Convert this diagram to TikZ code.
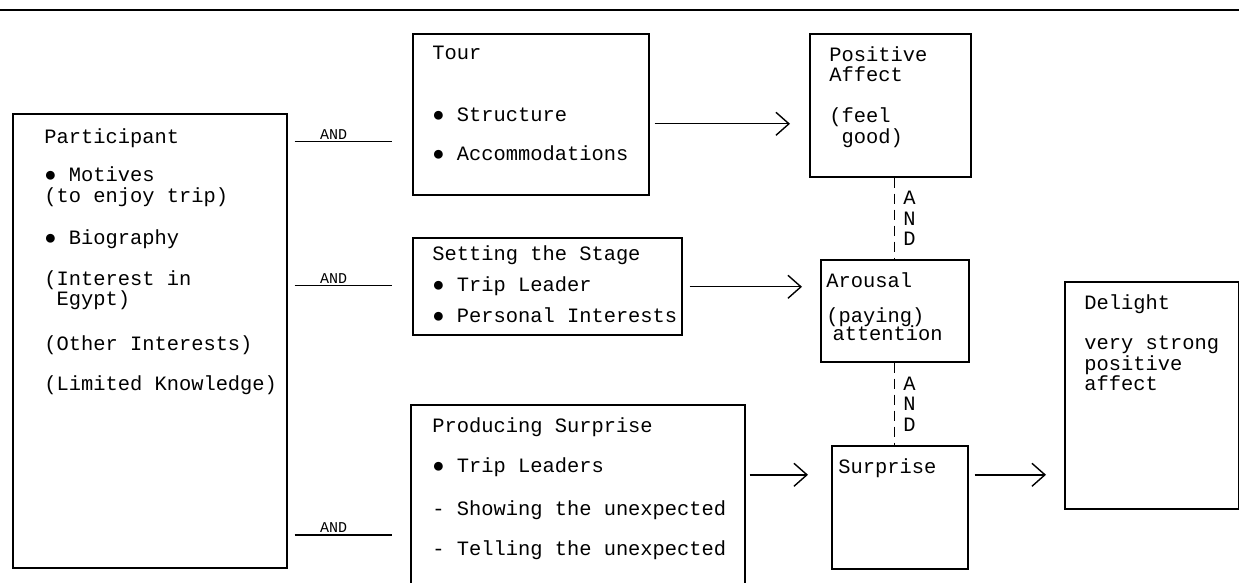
\documentclass[tikz,border=0pt]{standalone}
\usepackage{fontspec}
\newfontfamily\cour{Liberation Mono}
\usepackage{tikz}
\usetikzlibrary{arrows.meta, positioning}
\tikzset{
  box/.style 2 args={
    draw, line width=0.8pt, anchor=north west,
    minimum width=#1, minimum height=#2, inner sep=0pt
  },
  txt/.style={anchor=north west, align=left, inner sep=0pt,
    execute at begin node={\rule{0pt}{9pt}}},
  arrow/.style={-{Straight Barb[length=6.5pt,width=11.5pt]}, line width=0.7pt},
  andline/.style={line width=0.7pt},
  andlink/.style={dash pattern=on 5pt off 3pt, line width=0.6pt},
  andlbl/.style={font=\cour\fontsize{7.5}{8}\selectfont, above, inner sep=1pt}
}

\begin{document}
\begin{tikzpicture}[x=0.5pt, y=-0.5pt, font=\cour\fontsize{10.2}{10.25}\selectfont]
  \useasboundingbox (0,0) rectangle (1239,583);
  \clip (0,0) rectangle (1239,583);
  \draw[line width=1pt] (0,10) -- (1239,10);

  % boxes
  \node[box={137pt}{227pt}]   (part)    at (12,113)  {};
  \node[box={118pt}{80.5pt}]  (tour)    at (412,33)  {};
  \node[box={134.5pt}{48.5pt}] (stage)  at (412,237) {};
  \node[box={167pt}{98pt}]    (prod)    at (410,404) {};
  \node[box={80.5pt}{71.5pt}] (pos)     at (809,33)  {};
  \node[box={74pt}{51pt}]     (arou)    at (820,259) {};
  \node[box={68pt}{61.5pt}]   (surp)    at (831,445) {};
  \node[box={87pt}{113.5pt}]  (delight) at (1064,281) {};

  % texts
  \node[txt] (partT) at ([shift={(32,15)}]part.north west) {Participant\\[9pt] ● Motives\\ (to enjoy trip)\\[11pt]
    ● Biography\\[10pt] (Interest in\\ \ Egypt)\\[12pt] (Other Interests)\\[10pt] (Limited Knowledge)};
  \node[txt] (tourT) at ([shift={(20,13)}]tour.north west) {Tour\\[20.5pt] ● Structure\\[9.5pt] ● Accommodations};
  \node[txt] (stageT) at ([shift={(20,8)}]stage.north west) {Setting the Stage\\[5.5pt] ● Trip Leader\\[5.25pt]
    ● Personal Interests};
  \node[txt] (prodT) at ([shift={(22,13)}]prod.north west) {Producing Surprise\\[9.75pt] ● Trip Leaders\\[11.25pt]
    - Showing the unexpected\\[9.75pt] - Telling the unexpected};
  \node[txt] (posT) at ([shift={(20,13)}]pos.north west) {Positive\\ Affect\\[10.25pt] (feel\\ \ good)};
  \node[txt] (arouT) at ([shift={(6,13)}]arou.north west) {Arousal\\[7.25pt] (paying)\\[-1.25pt] \hspace{0.3em}attention};
  \node[txt] (surpT) at ([shift={(7,10)}]surp.north west) {Surprise};
  \node[txt] (delightT) at ([shift={(20,13)}]delight.north west) {Delight\\[10pt] very strong\\ positive\\ affect};

  % arrows
  \draw[arrow] ([shift={(5,9.5)}]tour.east) -- ([shift={(-19,18.5)}]pos.west);
  \draw[arrow] ([shift={(7,0.5)}]stage.east) -- ([shift={(-18,-24)}]arou.west);
  \draw[arrow] ([shift={(4,-28)}]prod.east) -- ([shift={(-23,-32.5)}]surp.west);
  \draw[arrow] ([shift={(6,-32.5)}]surp.east) -- ([shift={(-18,79.5)}]delight.west);

  % AND lines
  \draw[andline] ([shift={(7,-199)}]part.east) -- ([shift={(-20,27.5)}]tour.west)
    node[pos=0.4, andlbl] {AND};
  \draw[andline] ([shift={(7,-55)}]part.east) -- ([shift={(-20,-0.5)}]stage.west)
    node[pos=0.4, andlbl] {AND};
  \draw[andline] ([shift={(7,194)}]part.east) -- ([shift={(-18,32)}]prod.west)
    node[pos=0.4, andlbl] {AND};

  % dashed AND links
  \draw[andlink] (pos.south -| arou.north) -- (arou.north)
    node[midway, right=4pt, inner sep=0pt, align=center] {A\\N\\D};
  \draw[andlink] (arou.south) -- (arou.south |- surp.north)
    node[midway, right=4pt, inner sep=0pt, align=center] {A\\N\\D};
\end{tikzpicture}
\end{document}
